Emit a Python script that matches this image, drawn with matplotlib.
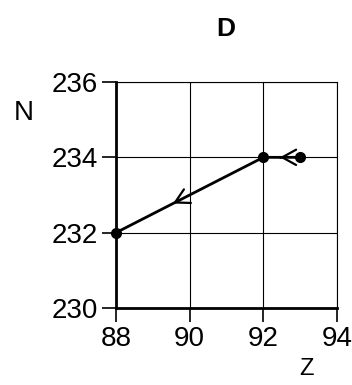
import matplotlib
matplotlib.use("Agg")
import matplotlib.pyplot as plt

plt.rcParams['font.family'] = ['Liberation Sans', 'DejaVu Sans']

# path of the point, in order of travel
z = [93, 92, 88]
n = [234, 234, 232]
arrow_frac = [0.55, 0.63]  # where the arrowhead sits along each segment

xticks = [88, 90, 92, 94]
yticks = [230, 232, 234, 236]

fig = plt.figure(figsize=(3.52, 3.85), dpi=100)
ax = fig.add_axes([116 / 352, 1 - 308 / 385, 221 / 352, 226 / 385])

ax.plot(z, n, color='black', lw=2.0, marker='o', ms=7, zorder=3, clip_on=False)
for i in range(len(z) - 1):
    f = arrow_frac[i]
    x1 = z[i] + (z[i + 1] - z[i]) * f
    y1 = n[i] + (n[i + 1] - n[i]) * f
    x0 = z[i] + (z[i + 1] - z[i]) * (f - 0.08)
    y0 = n[i] + (n[i + 1] - n[i]) * (f - 0.08)
    ax.annotate('', xy=(x1, y1), xytext=(x0, y0),
                arrowprops=dict(arrowstyle='->,head_length=1.0,head_width=0.55',
                                color='black', lw=1.6), zorder=4)

ax.set_xlim(88, 94)
ax.set_ylim(230, 236)
ax.set_xticks(xticks)
ax.set_yticks(yticks)
ax.grid(True, color='black', lw=0.8)
ax.tick_params(direction='out', length=10, width=1.2, labelsize=20, pad=3)
ax.spines['left'].set_linewidth(2.0)
ax.spines['bottom'].set_linewidth(2.0)
ax.spines['top'].set_linewidth(0.8)
ax.spines['right'].set_linewidth(0.8)

fig.text(226 / 352, 1 - 29 / 385, 'D', fontsize=19, fontweight='bold', ha='center', va='center')
fig.text(24 / 352, 1 - 113 / 385, 'N', fontsize=20, ha='center', va='center')
fig.text(306 / 352, 1 - 369 / 385, 'Z', fontsize=17, ha='center', va='center')

fig.savefig('out.png', dpi=100)
